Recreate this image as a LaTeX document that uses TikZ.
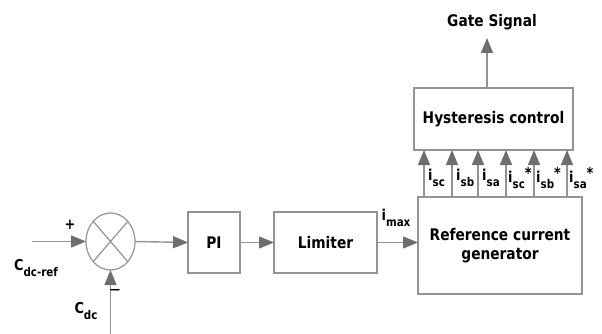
\documentclass[tikz,border=0pt]{standalone}
\usepackage{fontspec}
\setmainfont{DejaVu Sans}[FakeStretch=0.86]
\usetikzlibrary{arrows.meta,shapes.geometric}
\definecolor{ln}{HTML}{939393}
\definecolor{tipc}{HTML}{6E6E6E}
\newcommand{\lbl}[2]{\textbf{#1}\raisebox{-0.4em}{\fontsize{12}{12}\selectfont\textbf{#2}}}
\newcommand{\lbls}[2]{\textbf{#1}\raisebox{-0.4em}{\fontsize{12}{12}\selectfont\textbf{#2}}\raisebox{0.25em}{\textbf{*}}}
\begin{document}
\begin{tikzpicture}[x=1pt,y=-1pt,
  blk/.style={draw=ln,line width=1.3pt,fill=white,inner sep=0pt,outer sep=0pt,align=center,font=\fontsize{16}{19}\selectfont\bfseries},
  arr/.style={draw=ln,line width=1.4pt,-{Triangle[length=15pt,width=12pt,fill=tipc,color=tipc]}},
  txt/.style={inner sep=0pt,font=\fontsize{15}{17}\selectfont}]
\useasboundingbox (0,0) rectangle (602,334);
% nodes
\node[draw=ln,line width=1.2pt,ellipse,minimum width=49pt,minimum height=57pt,inner sep=0pt,outer sep=0pt] (sum) at (110.5,241.5) {};
\draw[ln,line width=1.2pt] (sum.north east) -- (sum.south west) (sum.north west) -- (sum.south east);
\node[blk,minimum width=52pt,minimum height=61pt] (pi) at (214,242.5) {PI};
\node[blk,minimum width=103pt,minimum height=61pt] (lim) at (325.5,242.5) {Limiter};
\node[blk,minimum width=164pt,minimum height=97pt] (rcg) at (500,245.5) {Reference current\\generator};
\node[blk,minimum width=159pt,minimum height=62pt] (hyst) at (493.5,119) {Hysteresis control};
\node[txt,font=\fontsize{16}{19}\selectfont\bfseries] (gst) at (492,22) {Gate Signal};
\coordinate (gs) at (487,38);
\coordinate (in) at (32,241.5);
\coordinate (cdcin) at (110.5,334);
% connectors
\draw[arr] (in) -- (sum.west);
\draw[arr] (cdcin) -- (sum.south);
\draw[arr] (sum.east) -- (pi.west);
\draw[arr] (pi.east) -- (lim.west);
\draw[arr] (lim.east) -- (lim.east -| rcg.west);
\draw[arr] (hyst.north -| gs) -- (gs);
\foreach \dx in {6,34,60,88,116,149}
  \draw[arr] ([xshift=\dx pt]rcg.north west) -- ++(0,-47);
% labels
\node[txt] (plus) at (70,225) {\textbf{+}};
\node[txt,font=\fontsize{12}{12}\selectfont] (minus) at (115,291) {\textbf{—}};
\node[txt] (cref) at (36,268) {\lbl{C}{dc-ref}};
\node[txt] (cdc) at (86,311) {\lbl{C}{dc}};
\node[txt] (imax) at (396,218) {\lbl{i}{max}};
\node[txt,anchor=west] (l1) at (428,178) {\lbl{i}{sc}};
\node[txt,anchor=west] (l2) at (456,178) {\lbl{i}{sb}};
\node[txt,anchor=west] (l3) at (482,178) {\lbl{i}{sa}};
\node[txt,anchor=west] (l4) at (508,178) {\lbls{i}{sc}};
\node[txt,anchor=west] (l5) at (536,178) {\lbls{i}{sb}};
\node[txt,anchor=west] (l6) at (569,178) {\lbls{i}{sa}};
\end{tikzpicture}
\end{document}
